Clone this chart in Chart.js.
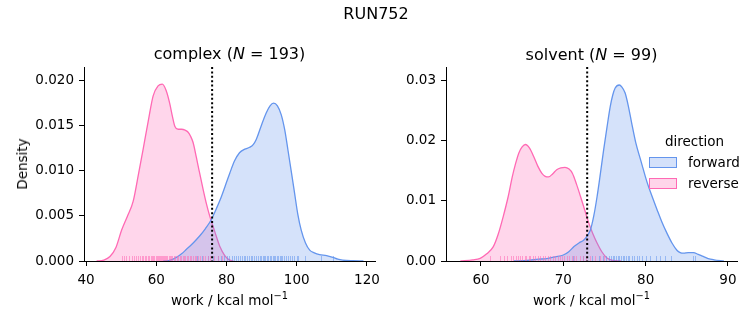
<!DOCTYPE html>
<html>
<head>
<meta charset="utf-8">
<script src="https://cdn.jsdelivr.net/npm/chart.js@4.4.0/dist/chart.umd.min.js"></script>
<style>
  html, body { margin: 0; padding: 0; background: #fff; }
  body { width: 753px; height: 325px; position: relative; overflow: hidden; font-family: "DejaVu Sans", sans-serif; color: #000; }
  .t { position: absolute; white-space: nowrap; transform: translate(-50%, -50%); }
  canvas { position: absolute; top: 0; }
  .patch { position: absolute; width: 26px; height: 9px; }
</style>
</head>
<body>
<canvas id="c1" width="390" height="325" style="left:0px"></canvas>
<canvas id="c2" width="373" height="325" style="left:380px"></canvas>

<div class="t" style="left:376px; top:13px; font-size:16px;">RUN752</div>
<div class="t" style="left:229.5px; top:53px; font-size:16px;">complex (<i>N</i> = 193)</div>
<div class="t" style="left:591.5px; top:54px; font-size:16px;">solvent (<i>N</i> = 99)</div>
<div class="t" style="left:229.5px; top:300px; font-size:13.5px;">work / kcal mol<sup style="font-size:9.8px; vertical-align:6px; line-height:0">−1</sup></div>
<div class="t" style="left:591.5px; top:300px; font-size:13.5px;">work / kcal mol<sup style="font-size:9.8px; vertical-align:6px; line-height:0">−1</sup></div>
<div class="t" style="left:22px; top:164px; font-size:13.5px; transform: translate(-50%, -50%) rotate(-90deg);">Density</div>

<div class="t" style="left:694.5px; top:141px; font-size:13.5px;">direction</div>
<div class="patch" style="left:649px; top:157px; background:rgba(100,149,237,0.28); border:1px solid #6495ED;"></div>
<div class="patch" style="left:649px; top:178px; background:rgba(255,105,180,0.28); border:1px solid #FF69B4;"></div>
<div class="t" style="left:688px; top:162px; font-size:13.5px; transform: translate(0, -50%);">forward</div>
<div class="t" style="left:688px; top:183px; font-size:13.5px; transform: translate(0, -50%);">reverse</div>

<script>
// ---- complex: KDE curves ----
const complexForwardX = [62.0, 64.0, 65.7, 67.2, 68.6, 70.5, 72.4, 74.0, 75.7, 77.1, 78.5, 79.7, 80.9, 82.3, 83.7, 85.2, 86.6, 87.6, 88.5, 89.9, 91.3, 92.4, 93.4, 94.5, 95.6, 96.6, 97.5, 98.5, 99.4, 100.3, 101.3, 102.5, 103.7, 105.0, 106.5, 108.5, 110.3, 111.7, 113.1, 116.0, 119.0];
const complexForwardY = [0, 0.0001, 0.0004, 0.0008, 0.0013, 0.0020, 0.0028, 0.0036, 0.0046, 0.0058, 0.0071, 0.0084, 0.0097, 0.0111, 0.0120, 0.0124, 0.0126, 0.0129, 0.0135, 0.0150, 0.0164, 0.0172, 0.0175, 0.0172, 0.0162, 0.0145, 0.0123, 0.0098, 0.0075, 0.0052, 0.0034, 0.0020, 0.0012, 0.0009, 0.0007, 0.0006, 0.0004, 0.0002, 0.0001, 0.00003, 0];
const complexReverseX = [43.0, 45.0, 46.8, 48.5, 50.1, 51.8, 53.4, 55.0, 56.2, 57.7, 59.1, 60.5, 61.7, 62.8, 63.8, 64.6, 65.3, 66.2, 67.2, 68.2, 69.0, 69.8, 70.5, 71.4, 72.2, 73.3, 74.3, 75.2, 76.2, 77.2, 78.1, 79.5, 80.9, 82.0];
const complexReverseY = [0, 0.0001, 0.0005, 0.0015, 0.0034, 0.0050, 0.0066, 0.0098, 0.0123, 0.0155, 0.0183, 0.0194, 0.0196, 0.0189, 0.0175, 0.0160, 0.0149, 0.0146, 0.0146, 0.0145, 0.0143, 0.0138, 0.0131, 0.0115, 0.0100, 0.0080, 0.0063, 0.0050, 0.0038, 0.0026, 0.0016, 0.0006, 0.0001, 0];
// ---- complex: rug samples ----
const complexForwardRug = [71.5, 73.0, 74.8, 76.2, 77.5, 78.4, 79.3, 80.1, 80.8, 81.5, 82.1, 82.7, 83.3, 83.9, 84.4, 84.9, 85.4, 85.9, 86.4, 86.9, 87.4, 87.9, 88.4, 88.9, 89.4, 89.9, 90.3, 90.7, 91.1, 91.5, 91.9, 92.3, 92.7, 93.1, 93.5, 93.9, 94.3, 94.7, 95.1, 95.5, 95.9, 96.4, 96.9, 97.4, 98.0, 98.6, 99.3, 100.1, 100.5, 102.4, 107.0, 110.3];
const complexReverseRug = [50.2, 50.8, 51.5, 52.3, 53.0, 53.6, 54.1, 54.9, 55.4, 55.9, 56.3, 56.8, 57.2, 57.6, 58.0, 58.4, 58.7, 59.1, 59.4, 59.8, 60.1, 60.4, 60.7, 61.0, 61.3, 61.6, 61.9, 62.2, 62.5, 62.8, 63.1, 63.5, 63.9, 64.2, 64.6, 65.0, 65.4, 65.8, 66.3, 66.7, 67.1, 67.5, 67.9, 68.3, 68.7, 69.1, 69.5, 70.0, 70.4, 70.9, 71.4, 71.9, 72.5, 73.2, 73.9, 74.6, 75.3, 76.4, 77.5, 78.6];
const complexMarker = 75.9;

// ---- solvent: KDE curves ----
const solventForwardX = [64.0, 65.6, 67.0, 68.0, 69.0, 70.0, 70.7, 71.3, 71.9, 72.5, 72.9, 73.3, 73.7, 74.1, 74.5, 74.9, 75.3, 75.7, 76.0, 76.3, 76.8, 77.1, 77.5, 77.9, 78.3, 78.8, 79.4, 80.2, 80.8, 81.4, 82.0, 82.6, 83.2, 83.8, 84.2, 84.6, 85.2, 85.8, 86.4, 86.9, 87.6, 88.3, 89.5];
const solventForwardY = [0, 0.0001, 0.0003, 0.0004, 0.0007, 0.0010, 0.0016, 0.0024, 0.0030, 0.0035, 0.0042, 0.0052, 0.0075, 0.0107, 0.0145, 0.0185, 0.0222, 0.0257, 0.0276, 0.0288, 0.0293, 0.0290, 0.0280, 0.0258, 0.0230, 0.0197, 0.0168, 0.0130, 0.0107, 0.0085, 0.0064, 0.0046, 0.0030, 0.0018, 0.0014, 0.0013, 0.0014, 0.0014, 0.0011, 0.0008, 0.0004, 0.0002, 0];
const solventReverseX = [57.5, 59.0, 59.9, 60.7, 61.5, 62.1, 62.7, 63.3, 63.8, 64.2, 64.6, 65.0, 65.4, 65.9, 66.4, 66.9, 67.4, 67.8, 68.2, 68.7, 69.2, 69.7, 70.2, 70.7, 71.1, 71.6, 72.1, 72.6, 73.1, 73.6, 74.1, 74.7, 75.3, 76.0, 77.0];
const solventReverseY = [0, 0.0002, 0.00045, 0.0012, 0.0024, 0.0045, 0.0074, 0.0107, 0.0140, 0.0162, 0.0180, 0.0190, 0.0194, 0.0188, 0.0174, 0.0158, 0.0146, 0.0141, 0.0140, 0.0145, 0.0152, 0.0155, 0.0156, 0.0153, 0.0146, 0.0128, 0.0107, 0.0085, 0.0063, 0.0045, 0.0030, 0.0015, 0.0005, 0.0001, 0];
// ---- solvent: rug samples ----
const solventForwardRug = [71.2, 72.4, 73.5, 74.3, 74.8, 75.2, 75.5, 75.8, 76.0, 76.2, 76.4, 76.6, 76.8, 77.0, 77.2, 77.4, 77.6, 77.8, 78.0, 78.3, 78.6, 78.9, 79.2, 79.6, 80.0, 80.5, 81.3, 81.8, 82.4, 83.1, 85.7, 86.0];
const solventReverseRug = [61.1, 62.3, 62.8, 63.2, 63.6, 63.9, 64.2, 64.5, 64.8, 65.0, 65.3, 65.5, 65.8, 66.0, 66.3, 66.6, 66.9, 67.2, 67.5, 67.8, 68.1, 68.4, 68.7, 69.0, 69.3, 69.6, 69.9, 70.1, 70.4, 70.7, 71.0, 71.3, 71.6, 72.0, 72.4, 72.8, 73.3, 73.8, 74.4, 75.0];
const solventMarker = 72.9;

// ---- axis ticks ----
const complexXTicks = [40, 60, 80, 100, 120];
const complexYTicks = [0, 0.005, 0.010, 0.015, 0.020];
const solventXTicks = [60, 70, 80, 90];
const solventYTicks = [0, 0.01, 0.02, 0.03];

const BLUE = '#6495ED', PINK = '#FF69B4';
const FONT = { family: 'DejaVu Sans', size: 13.5 };

function pts(xs, ys) { return xs.map((x, i) => ({ x: x, y: ys[i] })); }

const rugPlugin = {
  id: 'rug',
  afterDatasetsDraw(chart, args, opts) {
    const ctx = chart.ctx, xs = chart.scales.x, ys = chart.scales.y;
    const y0 = ys.getPixelForValue(0);
    ctx.save();
    ctx.lineWidth = 1;
    opts.sets.forEach(s => {
      ctx.strokeStyle = s.color;
      s.values.forEach(v => {
        const px = Math.round(xs.getPixelForValue(v)) + 0.5;
        ctx.beginPath();
        ctx.moveTo(px, y0);
        ctx.lineTo(px, y0 - 5);
        ctx.stroke();
      });
    });
    // dotted marker line on top
    const mx = xs.getPixelForValue(opts.marker);
    ctx.strokeStyle = '#000';
    ctx.lineWidth = 2;
    ctx.setLineDash([2, 2.4]);
    ctx.beginPath();
    ctx.moveTo(mx, ys.getPixelForValue(ys.max));
    ctx.lineTo(mx, y0);
    ctx.stroke();
    ctx.restore();
  }
};

function makeChart(id, cfg) {
  return new Chart(document.getElementById(id), {
    type: 'line',
    data: {
      datasets: [
        { data: pts(cfg.fx, cfg.fy), borderColor: BLUE, backgroundColor: 'rgba(100,149,237,0.27)', fill: 'origin', borderWidth: 1.3, pointRadius: 0, cubicInterpolationMode: 'monotone' },
        { data: pts(cfg.rx, cfg.ry), borderColor: PINK, backgroundColor: 'rgba(255,105,180,0.27)', fill: 'origin', borderWidth: 1.3, pointRadius: 0, cubicInterpolationMode: 'monotone' }
      ]
    },
    plugins: [rugPlugin],
    options: {
      responsive: false,
      animation: false,
      devicePixelRatio: 1,
      layout: { padding: { top: 67, right: cfg.padRight, left: 0, bottom: 0 } },
      plugins: {
        legend: { display: false },
        tooltip: { enabled: false },
        rug: { sets: [{ values: cfg.fRug, color: 'rgba(100,149,237,0.55)' }, { values: cfg.rRug, color: 'rgba(255,105,180,0.55)' }], marker: cfg.marker }
      },
      scales: {
        x: {
          type: 'linear', min: cfg.xmin, max: cfg.xmax,
          afterBuildTicks: s => { s.ticks = cfg.xticks.map(v => ({ value: v })); },
          afterFit: s => { s.height = 64; },
          grid: { display: true, drawOnChartArea: false, drawTicks: true, tickLength: 5, color: '#000', lineWidth: 1 },
          border: { display: true, color: '#000', width: 1 },
          ticks: { color: '#000', font: FONT, padding: 6, maxRotation: 0, callback: v => String(v) }
        },
        y: {
          type: 'linear', min: 0, max: cfg.ymax,
          afterBuildTicks: s => { s.ticks = cfg.yticks.map(v => ({ value: v })); },
          afterFit: s => { s.width = cfg.yw; },
          grid: { display: true, drawOnChartArea: false, drawTicks: true, tickLength: 5, color: '#000', lineWidth: 1 },
          border: { display: true, color: '#000', width: 1 },
          ticks: { color: '#000', font: FONT, padding: 5, callback: v => v.toFixed(cfg.dec) }
        }
      }
    }
  });
}

makeChart('c1', {
  fx: complexForwardX, fy: complexForwardY, rx: complexReverseX, ry: complexReverseY,
  fRug: complexForwardRug, rRug: complexReverseRug, marker: complexMarker,
  xmin: 39.4, xmax: 122.3, ymax: 0.0215, xticks: complexXTicks, yticks: complexYTicks,
  dec: 3, yw: 84, padRight: 15
});
makeChart('c2', {
  fx: solventForwardX, fy: solventForwardY, rx: solventReverseX, ry: solventReverseY,
  fRug: solventForwardRug, rRug: solventReverseRug, marker: solventMarker,
  xmin: 55.75, xmax: 91.1, ymax: 0.0323, xticks: solventXTicks, yticks: solventYTicks,
  dec: 2, yw: 66, padRight: 16
});
</script>
</body>
</html>
